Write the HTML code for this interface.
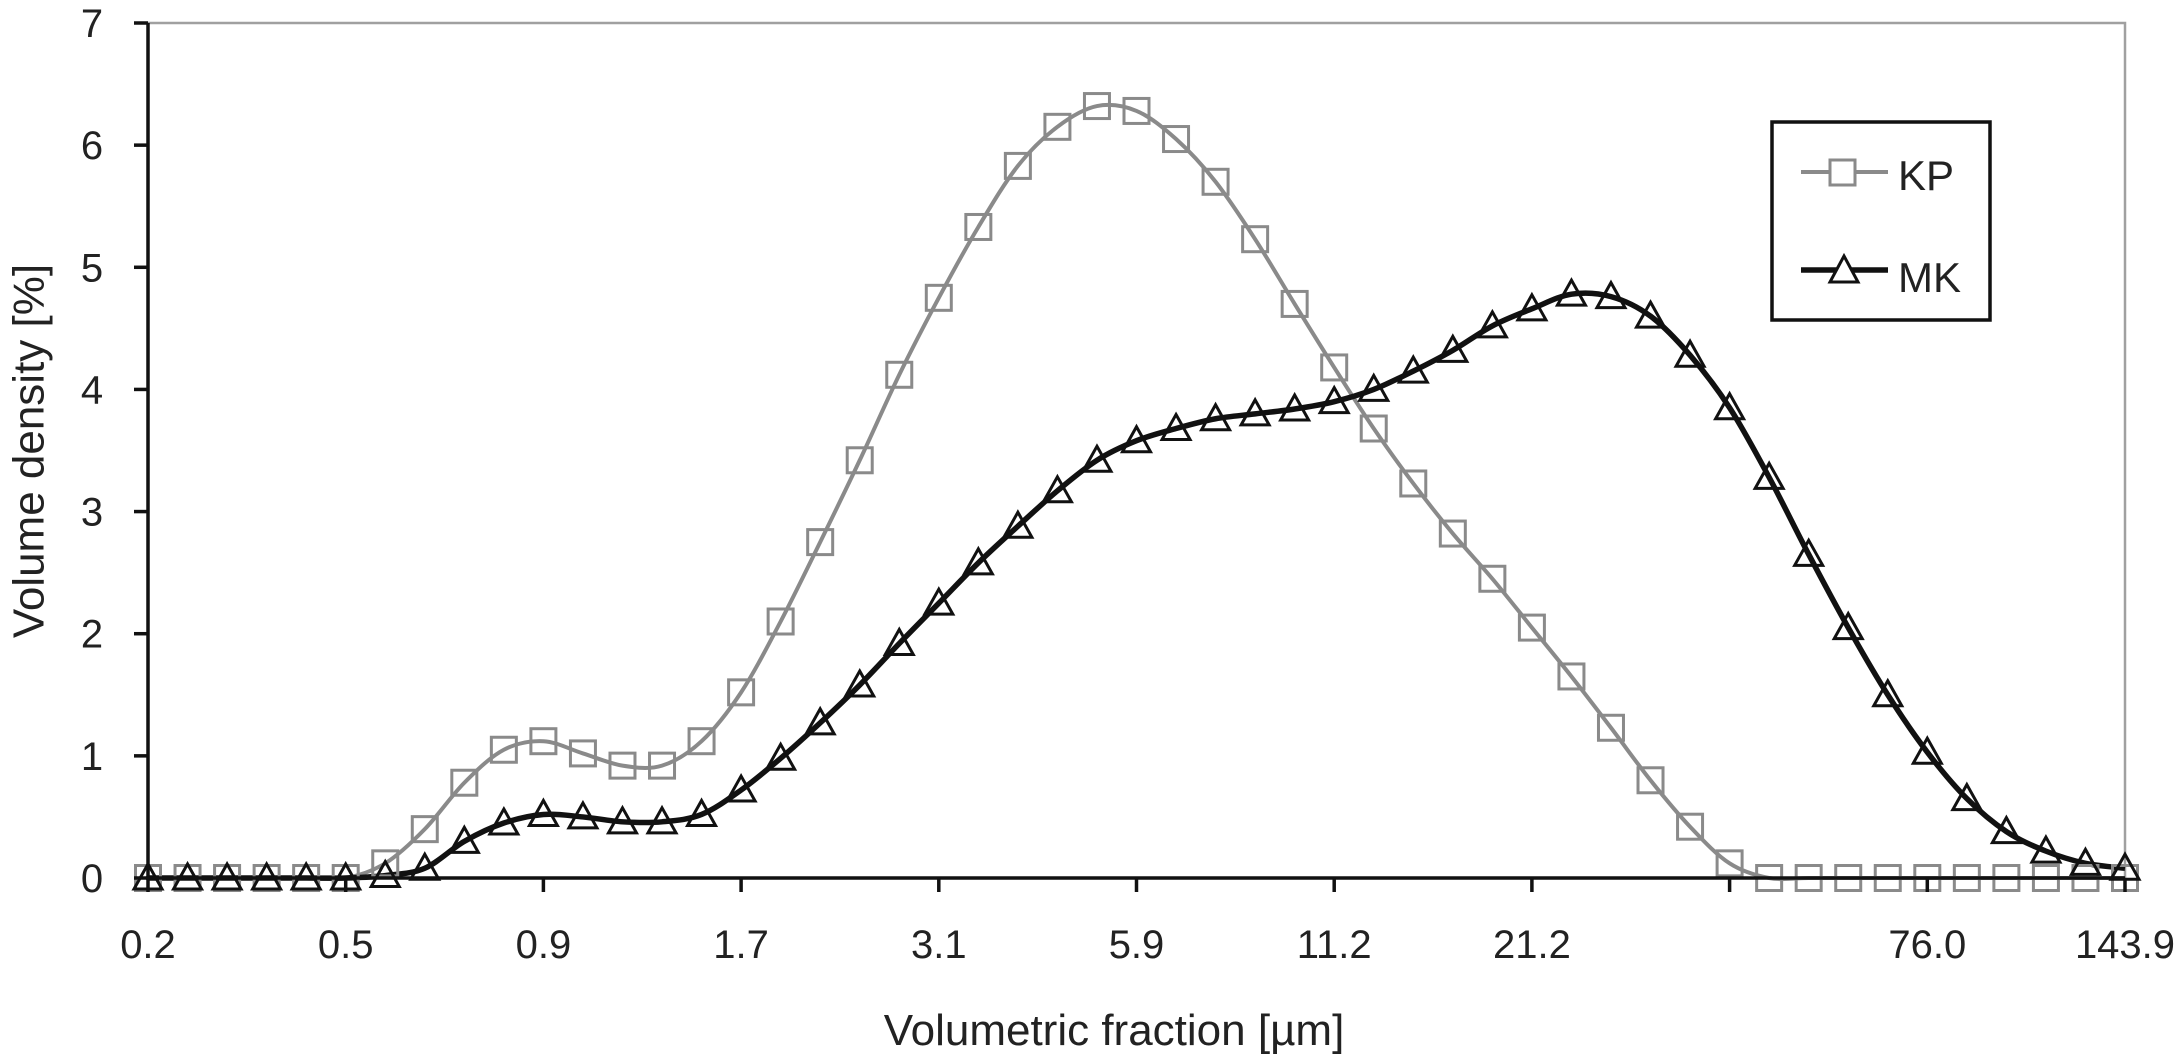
<!DOCTYPE html>
<html><head><meta charset="utf-8"><style>
html,body{margin:0;padding:0;background:#fff;}
svg{display:block;font-family:"Liberation Sans",sans-serif;}
</style></head><body>
<svg id="chart" width="2174" height="1057" viewBox="0 0 2174 1057">
<rect x="148" y="23" width="1977" height="855" fill="none" stroke="#a0a0a0" stroke-width="2.5"/>
<g id="series"></g>
<line x1="148" y1="23" x2="148" y2="880" stroke="#111" stroke-width="3.5"/>
<line x1="146" y1="878" x2="2125" y2="878" stroke="#111" stroke-width="3.5"/>
<g id="axes"></g>
<text x="32" y="451" font-size="44" text-anchor="middle" dominant-baseline="middle" transform="rotate(-90 32 451)" fill="#222">Volume density [%]</text>
<text x="1114" y="1045" font-size="44" text-anchor="middle" fill="#222">Volumetric fraction [µm]</text>
<g>
<rect x="1772" y="122" width="218" height="198" fill="#fff" stroke="#111" stroke-width="3.5"/>
<g>
<line x1="1801" y1="172" x2="1888" y2="172" stroke="#8a8a8a" stroke-width="4"/>
<rect x="1830" y="160" width="25" height="25" fill="#fff" stroke="#8a8a8a" stroke-width="3"/>
<text x="1898" y="190" font-size="42" fill="#222">KP</text>
</g>
<g>
<line x1="1801" y1="270" x2="1888" y2="270" stroke="#111" stroke-width="5.5"/>
<polygon points="1844,256 1858,282 1830,282" fill="#fff" stroke="#111" stroke-width="3"/>
<text x="1898" y="292" font-size="42" fill="#222">MK</text>
</g>
</g>
</svg>
<script>
const kpValues=[0,0,0,0,0,0,0.12,0.4,0.78,1.05,1.12,1.02,0.92,0.92,1.12,1.52,2.1,2.75,3.42,4.12,4.75,5.33,5.83,6.15,6.32,6.28,6.05,5.7,5.23,4.7,4.18,3.68,3.23,2.82,2.45,2.05,1.65,1.23,0.8,0.42,0.12,0,0,0,0,0,0,0,0,0,0];
const mkValues=[0,0,0,0,0,0,0.02,0.08,0.3,0.45,0.52,0.5,0.46,0.46,0.52,0.72,0.98,1.27,1.58,1.92,2.25,2.58,2.88,3.17,3.42,3.58,3.68,3.76,3.8,3.84,3.9,4.0,4.15,4.32,4.52,4.66,4.78,4.76,4.6,4.28,3.85,3.28,2.65,2.05,1.5,1.03,0.65,0.38,0.22,0.12,0.08];
const xTickLabels=["0.2","0.5","0.9","1.7","3.1","5.9","11.2","21.2","","76.0","143.9"];
const yTickLabels=[0,1,2,3,4,5,6,7];

const NS="http://www.w3.org/2000/svg";
const X0=148,X1=2125,Y0=878,Y1=23,YMAX=7;
const nPts=kpValues.length;
function xScale(i){return X0+(X1-X0)*i/(nPts-1);}
function yScale(v){return Y0-(Y0-Y1)*v/YMAX;}
function mk(tag,attrs,parent){const e=document.createElementNS(NS,tag);for(const k in attrs)e.setAttribute(k,attrs[k]);parent.appendChild(e);return e;}
const axes=document.getElementById('axes');
yTickLabels.forEach(v=>{
  const y=yScale(v);
  const t=mk('line',{x1:134,y1:y,x2:148,y2:y,stroke:'#111','stroke-width':3.5},axes);
  
  
  const l=mk('text',{x:92,y:y+14,'font-size':40,'text-anchor':'middle',fill:'#222'},axes);
  l.textContent=v;
  
  
});
xTickLabels.forEach((s,k)=>{
  const x=X0+(X1-X0)*k/(xTickLabels.length-1);
  const t=mk('line',{x1:x,y1:878,x2:x,y2:892,stroke:'#111','stroke-width':3.5},axes);
  
  
  const l=mk('text',{x:x,y:958,'font-size':40,'text-anchor':'middle',fill:'#222'},axes);
  l.textContent=s;
  
  
});
function smoothPath(vals){
  const p=vals.map((v,i)=>[xScale(i),yScale(v)]);
  let d='M'+p[0][0]+','+p[0][1];
  for(let i=0;i<p.length-1;i++){
    const a=p[Math.max(0,i-1)],b=p[i],c=p[i+1],e=p[Math.min(p.length-1,i+2)];
    const c1=[b[0]+(c[0]-a[0])/6,b[1]+(c[1]-a[1])/6],c2=[c[0]-(e[0]-b[0])/6,c[1]-(e[1]-b[1])/6];
    d+=' C'+c1[0]+','+c1[1]+' '+c2[0]+','+c2[1]+' '+c[0]+','+c[1];
  }
  return d;
}
const series=document.getElementById('series');
const kpLine=mk('path',{d:smoothPath(kpValues),fill:'none',stroke:'#8a8a8a','stroke-width':4},series);


const mkLine=mk('path',{d:smoothPath(mkValues),fill:'none',stroke:'#111','stroke-width':5.5},series);


kpValues.forEach((v,i)=>{
  const r=mk('rect',{x:xScale(i)-12.5,y:yScale(v)-12.5,width:25,height:25,fill:'none',stroke:'#8a8a8a','stroke-width':3},series);
  
  
});
mkValues.forEach((v,i)=>{
  const x=xScale(i),y=yScale(v);
  const p=mk('polygon',{points:`${x},${y-14} ${x+14},${y+11} ${x-14},${y+11}`,fill:'none',stroke:'#111','stroke-width':3},series);
  
  
});
</script>
</body></html>
